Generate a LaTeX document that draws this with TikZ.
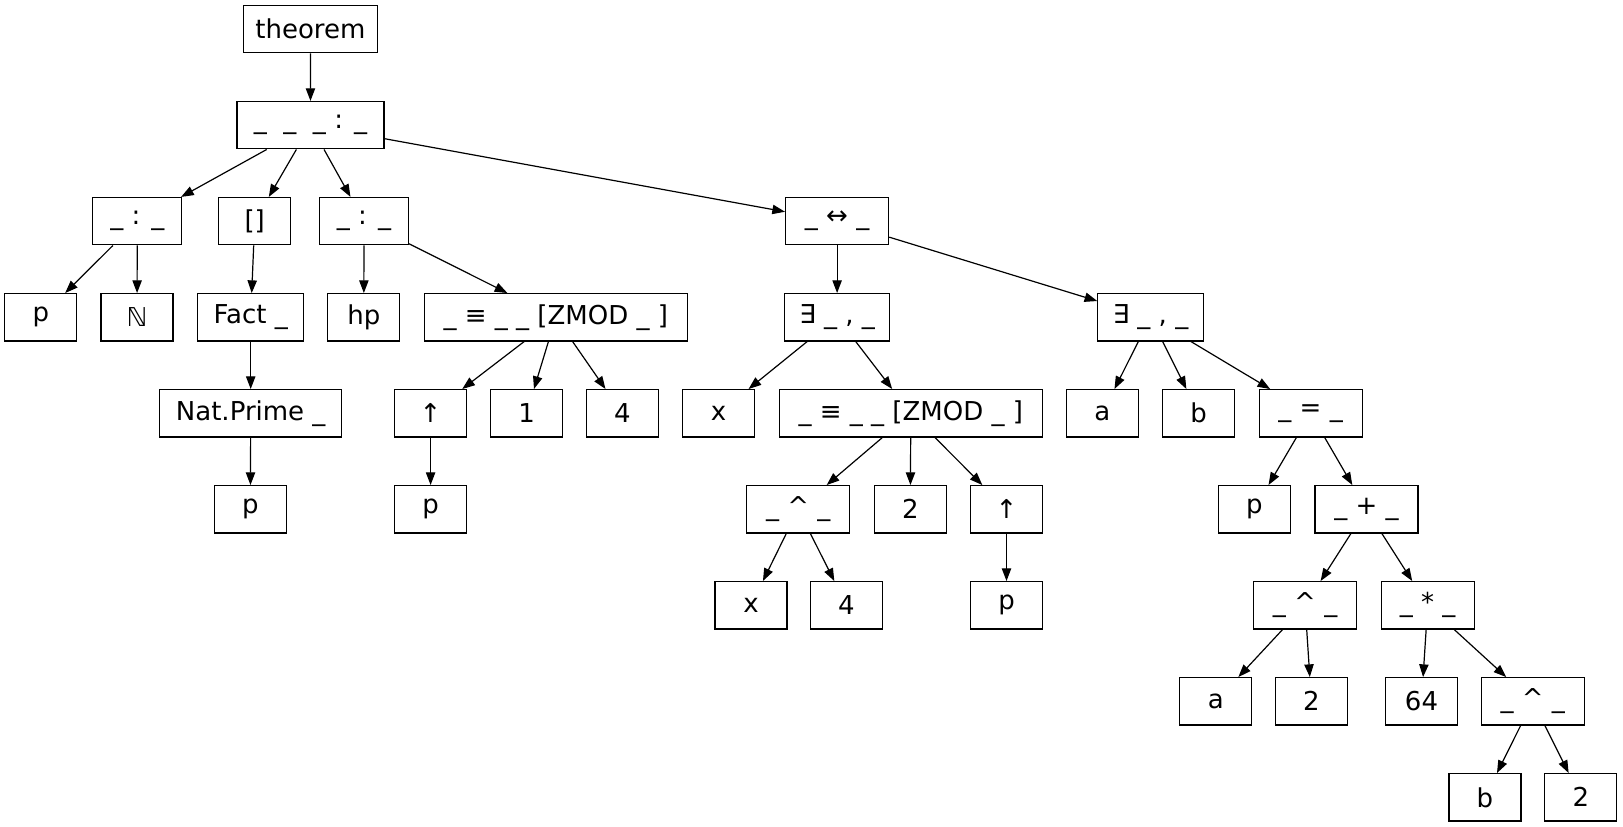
\documentclass[tikz,border=0pt]{standalone}
\usepackage{fontspec}
\setmainfont{DejaVu Sans}
\usepackage{tikz}
\usetikzlibrary{arrows.meta}
\newcommand{\termfont}{\fontsize{19.5pt}{23pt}\selectfont}
\tikzstyle{term} = [rectangle, draw=black, line width=0.9pt, minimum width=54pt, minimum height=35.5pt, inner xsep=4pt, text centered, font=\termfont]
\tikzstyle{arrow} = [line width=0.9pt, -{Triangle[length=9.5pt, width=7pt]}]

\begin{document}
\begin{tikzpicture}[x=0.75pt, y=-0.75pt]
    \useasboundingbox (0,0) rectangle (1623,827);

    % Statement
    \node (thm) [term, minimum width=100.5pt] at (310.4,29) {theorem};
    \node (bind) [term, minimum width=110.25pt] at (310.5,125.2) {\_~~\_~~\_ : \_};

    % Binders and the iff
    \node (typp) [term, minimum width=66.75pt] at (137.3,221.2) {\_ : \_};
    \node (nil) [term] at (254.7,221.2) {[]};
    \node (typhp) [term, minimum width=66.75pt] at (364,221.2) {\_ : \_};
    \node (iff) [term, minimum width=77.25pt] at (837.1,221.2) {\_ ↔ \_};

    % Left part: hypotheses
    \node (p1) [term] at (40.8,317.3) {p};
    \node (nat) [term] at (137,317.3) {ℕ};
    \node (fact) [term, minimum width=79.5pt] at (250.7,317.3) {Fact \_};
    \node (prime) [term, minimum width=136.5pt] at (250.7,413.3) {Nat.Prime \_};
    \node (p2) [term] at (250.4,509.3) {p};
    \node (hp) [term] at (363.8,317.3) {hp};
    \node (cong1) [term, minimum width=197.25pt] at (555.8,317.3) {\_ ≡ \_ \_ [ZMOD \_ ]};
    \node (up1) [term] at (430.6,413.3) {↑};
    \node (one) [term] at (526.6,413.3) {1};
    \node (four1) [term] at (622.3,413.3) {4};
    \node (p3) [term] at (430.6,509.3) {p};

    % Right part: first exists
    \node (ex1) [term, minimum width=79pt] at (837.1,317.3) {∃ \_ , \_};
    \node (x1) [term] at (718.6,413.3) {x};
    \node (cong2) [term, minimum width=197.5pt] at (910.8,413.3) {\_ ≡ \_ \_ [ZMOD \_ ]};
    \node (pow1) [term, minimum width=77.25pt] at (798.2,509.3) {\_ \textasciicircum\ \_};
    \node (two1) [term] at (910.3,509.3) {2};
    \node (up2) [term] at (1006.5,509.3) {↑};
    \node (x2) [term] at (751,605.3) {x};
    \node (four2) [term] at (846.5,605.3) {4};
    \node (p5) [term] at (1006.5,605.3) {p};

    % Right part: second exists
    \node (ex2) [term, minimum width=79pt] at (1150.5,317.3) {∃ \_ , \_};
    \node (a1) [term] at (1102.3,413.3) {a};
    \node (b1) [term] at (1198.5,413.3) {b};
    \node (eq) [term, minimum width=77.25pt] at (1310.6,413.3) {\_ = \_};
    \node (p4) [term] at (1254.3,509.3) {p};
    \node (plus) [term, minimum width=77.25pt] at (1366.4,509.3) {\_ + \_};
    \node (pow2) [term, minimum width=77.25pt] at (1305.1,605.3) {\_ \textasciicircum\ \_};
    \node (mul) [term, minimum width=69.75pt] at (1427.7,605.3) {\_ * \_};
    \node (a2) [term] at (1215.8,701.3) {a};
    \node (two2) [term] at (1311.4,701.3) {2};
    \node (sixtyfour) [term] at (1421.5,701.3) {64};
    \node (pow3) [term, minimum width=77.25pt] at (1532.7,701.3) {\_ \textasciicircum\ \_};
    \node (b2) [term] at (1484.9,797.3) {b};
    \node (two3) [term] at (1580.8,797.3) {2};

    % Arrows
    \draw [arrow] (thm) -- (bind);
    \draw [arrow] (bind) -- (typp);
    \draw [arrow] (bind) -- (nil);
    \draw [arrow] (bind) -- (typhp);
    \draw [arrow] (bind) -- (iff);
    \draw [arrow] (typp) -- (p1);
    \draw [arrow] (typp) -- (nat);
    \draw [arrow] (nil) -- (fact);
    \draw [arrow] (fact) -- (prime);
    \draw [arrow] (prime) -- (p2);
    \draw [arrow] (typhp) -- (hp);
    \draw [arrow] (typhp) -- (cong1);
    \draw [arrow] (cong1) -- (up1);
    \draw [arrow] (cong1) -- (one);
    \draw [arrow] (cong1) -- (four1);
    \draw [arrow] (up1) -- (p3);
    \draw [arrow] (iff) -- (ex1);
    \draw [arrow] (iff) -- (ex2);
    \draw [arrow] (ex1) -- (x1);
    \draw [arrow] (ex1) -- (cong2);
    \draw [arrow] (cong2) -- (pow1);
    \draw [arrow] (cong2) -- (two1);
    \draw [arrow] (cong2) -- (up2);
    \draw [arrow] (pow1) -- (x2);
    \draw [arrow] (pow1) -- (four2);
    \draw [arrow] (up2) -- (p5);
    \draw [arrow] (ex2) -- (a1);
    \draw [arrow] (ex2) -- (b1);
    \draw [arrow] (ex2) -- (eq);
    \draw [arrow] (eq) -- (p4);
    \draw [arrow] (eq) -- (plus);
    \draw [arrow] (plus) -- (pow2);
    \draw [arrow] (plus) -- (mul);
    \draw [arrow] (pow2) -- (a2);
    \draw [arrow] (pow2) -- (two2);
    \draw [arrow] (mul) -- (sixtyfour);
    \draw [arrow] (mul) -- (pow3);
    \draw [arrow] (pow3) -- (b2);
    \draw [arrow] (pow3) -- (two3);
\end{tikzpicture}
\end{document}
